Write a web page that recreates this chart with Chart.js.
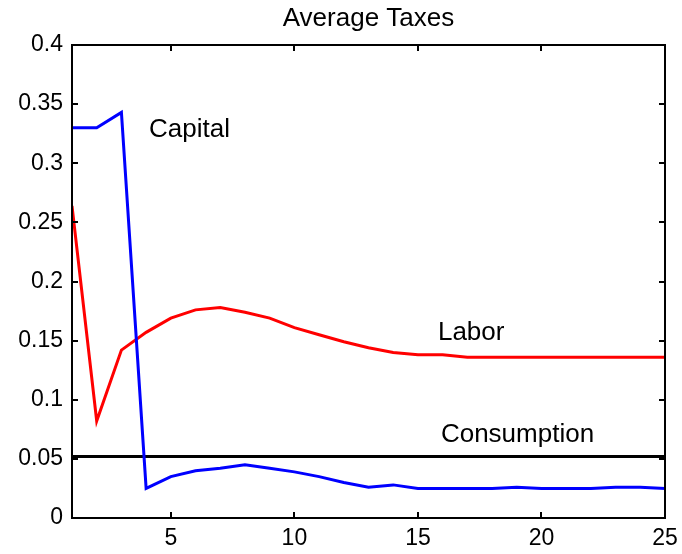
<!DOCTYPE html>
<html>
<head>
<meta charset="utf-8">
<title>Average Taxes</title>
<script src="https://cdn.jsdelivr.net/npm/chart.js@4.4.1/dist/chart.umd.min.js"></script>
<style>
  html, body { margin: 0; padding: 0; background: #fff; }
  #wrap { width: 682px; height: 554px; }
</style>
</head>
<body>
<div id="wrap"><canvas id="taxChart"></canvas></div>
<script>
"use strict";

var periods = [1, 2, 3, 4, 5, 6, 7, 8, 9, 10, 11, 12, 13, 14, 15, 16, 17, 18, 19, 20, 21, 22, 23, 24, 25];

var capitalTax = [0.330, 0.330, 0.343, 0.025, 0.035, 0.040, 0.042, 0.045, 0.042, 0.039, 0.035, 0.030, 0.026, 0.028, 0.025,
  0.025, 0.025, 0.025, 0.026, 0.025, 0.025, 0.025, 0.026, 0.026, 0.025];

var laborTax = [0.264, 0.082, 0.142, 0.157, 0.169, 0.176, 0.178, 0.174, 0.169, 0.161, 0.155, 0.149, 0.144, 0.140, 0.138,
  0.138, 0.136, 0.136, 0.136, 0.136, 0.136, 0.136, 0.136, 0.136, 0.136];

var consumptionTax = [0.052, 0.052, 0.052, 0.052, 0.052, 0.052, 0.052, 0.052, 0.052, 0.052, 0.052, 0.052, 0.052, 0.052, 0.052,
  0.052, 0.052, 0.052, 0.052, 0.052, 0.052, 0.052, 0.052, 0.052, 0.052];

var xTicks = [5, 10, 15, 20, 25];
var yTicks = [0, 0.05, 0.1, 0.15, 0.2, 0.25, 0.3, 0.35, 0.4];

// text labels next to each curve, in data units (baseline position)
var curveLabels = [
  { text: "Capital", x: 4.12, y: 0.322 },
  { text: "Labor", x: 15.81, y: 0.1505 },
  { text: "Consumption", x: 15.93, y: 0.0643 }
];

var FONT = "'Liberation Sans', Arial, Helvetica, sans-serif";

function toPoints(ys) {
  return periods.map(function (p, i) { return { x: p, y: ys[i] }; });
}

// box around the axes with inward tick marks on all four sides
var boxPlugin = {
  id: "boxTicks",
  afterDatasetsDraw: function (chart) {
    var ctx = chart.ctx;
    var a = chart.chartArea;
    var xs = chart.scales.x;
    var ys = chart.scales.y;
    var len = 6;
    ctx.save();
    ctx.strokeStyle = "#000";
    ctx.lineWidth = 2;
    ctx.strokeRect(a.left, a.top, a.right - a.left, a.bottom - a.top);
    ctx.beginPath();
    xTicks.forEach(function (v) {
      var px = Math.round(xs.getPixelForValue(v));
      ctx.moveTo(px, a.bottom); ctx.lineTo(px, a.bottom - len);
      ctx.moveTo(px, a.top); ctx.lineTo(px, a.top + len);
    });
    yTicks.forEach(function (v) {
      var py = Math.round(ys.getPixelForValue(v));
      ctx.moveTo(a.left, py); ctx.lineTo(a.left + len, py);
      ctx.moveTo(a.right, py); ctx.lineTo(a.right - len, py);
    });
    ctx.stroke();

    ctx.fillStyle = "#000";
    ctx.font = "26px " + FONT;
    ctx.textAlign = "left";
    ctx.textBaseline = "alphabetic";
    curveLabels.forEach(function (l) {
      ctx.fillText(l.text, xs.getPixelForValue(l.x), ys.getPixelForValue(l.y));
    });
    ctx.restore();
  }
};

new Chart(document.getElementById("taxChart"), {
  type: "line",
  data: {
    datasets: [
      {
        label: "Capital",
        data: toPoints(capitalTax),
        borderColor: "#0000ff",
        borderWidth: 3,
        pointRadius: 0,
        tension: 0
      },
      {
        label: "Labor",
        data: toPoints(laborTax),
        borderColor: "#ff0000",
        borderWidth: 3,
        pointRadius: 0,
        tension: 0
      },
      {
        label: "Consumption",
        data: toPoints(consumptionTax),
        borderColor: "#000000",
        borderWidth: 3,
        pointRadius: 0,
        tension: 0
      }
    ]
  },
  options: {
    responsive: true,
    maintainAspectRatio: false,
    animation: false,
    layout: {
      padding: { top: 0, right: 17, left: 0, bottom: 0 }
    },
    plugins: {
      legend: { display: false },
      tooltip: { enabled: false },
      title: {
        display: true,
        fullSize: false,
        text: "Average Taxes",
        color: "#000",
        font: { size: 26, family: FONT, weight: "normal", lineHeight: 1.2 },
        padding: { top: 3, bottom: 10.8 }
      }
    },
    scales: {
      x: {
        type: "linear",
        min: 1,
        max: 25,
        grid: { display: false, drawTicks: false },
        border: { display: false },
        afterBuildTicks: function (scale) {
          scale.ticks = xTicks.map(function (v) { return { value: v }; });
        },
        afterFit: function (scale) {
          scale.height = 36;
          // let the last label run past the plot edge
          scale.paddingLeft = 0;
          scale.paddingRight = 0;
        },
        ticks: {
          color: "#000",
          padding: 7,
          maxRotation: 0,
          font: { size: 23, family: FONT }
        }
      },
      y: {
        min: 0,
        max: 0.4,
        grid: { display: false, drawTicks: false },
        border: { display: false },
        afterBuildTicks: function (scale) {
          scale.ticks = yTicks.map(function (v) { return { value: v }; });
        },
        afterFit: function (scale) {
          scale.width = 72;
          scale.paddingTop = 0;
          scale.paddingBottom = 0;
        },
        ticks: {
          color: "#000",
          padding: 9,
          font: { size: 23, family: FONT },
          callback: function (v) { return String(+v.toFixed(2)); }
        }
      }
    }
  },
  plugins: [boxPlugin]
});
</script>
</body>
</html>
